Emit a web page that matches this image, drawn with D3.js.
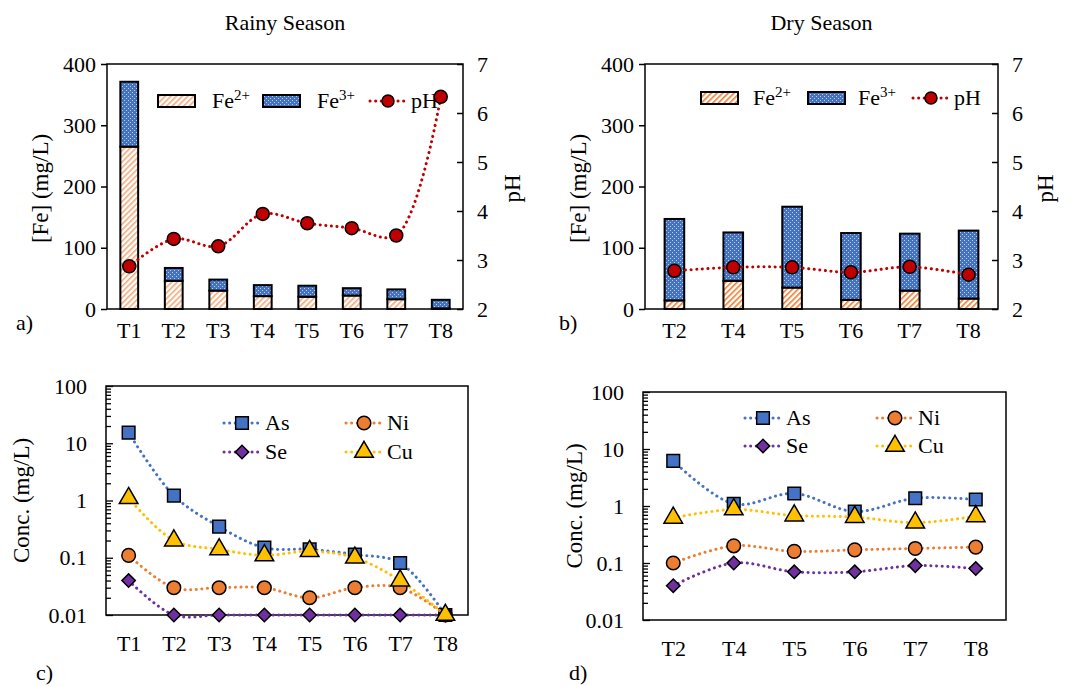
<!DOCTYPE html>
<html><head><meta charset="utf-8">
<script src="https://cdn.jsdelivr.net/npm/d3@7"></script>
<style>body{margin:0;background:#fff}</style>
</head><body>
<script>
// ---------- data ----------
const rainyCats = ["T1","T2","T3","T4","T5","T6","T7","T8"];
const rainyFe2 = [265, 46, 30, 21, 20, 22, 16, 1];
const rainyFe3 = [106, 21, 18, 18, 18, 12, 16, 14];
const rainyPH  = [2.87, 3.43, 3.28, 3.94, 3.75, 3.65, 3.50, 6.33];

const dryCats = ["T2","T4","T5","T6","T7","T8"];
const dryFe2 = [14, 46, 35, 15, 30, 17];
const dryFe3 = [133, 79, 132, 109, 93, 111];
const dryPH  = [2.78, 2.85, 2.85, 2.75, 2.86, 2.70];

const rainyAs = [15.3, 1.22, 0.35, 0.15, 0.14, 0.114, 0.081, 0.01];
const rainyNi = [0.11, 0.03, 0.03, 0.03, 0.02, 0.03, 0.03, 0.01];
const rainySe = [0.04, 0.01, 0.01, 0.01, 0.01, 0.01, 0.01, 0.01];
const rainyCu = [1.1, 0.2, 0.14, 0.11, 0.13, 0.10, 0.04, 0.01];

const dryAs = [6.2, 1.09, 1.66, 0.80, 1.37, 1.30];
const dryNi = [0.10, 0.20, 0.16, 0.17, 0.18, 0.19];
const drySe = [0.04, 0.10, 0.07, 0.07, 0.09, 0.08];
const dryCu = [0.62, 0.87, 0.68, 0.64, 0.51, 0.66];

const feTicks = [0, 100, 200, 300, 400];
const phTicks = [2, 3, 4, 5, 6, 7];
const concTicks = [0.01, 0.1, 1, 10, 100];
const concTickLabels = ["0.01", "0.1", "1", "10", "100"];

// ---------- setup ----------
const FONT = "Liberation Serif";
const svg = d3.select("body").append("svg").attr("width", 1084).attr("height", 686)
  .style("font-family", FONT);
const defs = svg.append("defs");
function hatch(id, col) {
  const p = defs.append("pattern").attr("id", id).attr("width", 4).attr("height", 4)
    .attr("patternUnits", "userSpaceOnUse").attr("patternTransform", "rotate(45)");
  p.append("rect").attr("width", 4).attr("height", 4).attr("fill", "#fff");
  p.append("rect").attr("width", 1.6).attr("height", 4).attr("fill", col);
}
hatch("hatchA", "#F4A97A");
hatch("hatchB", "#ED7D31");
(function () {
  const p = defs.append("pattern").attr("id", "dots").attr("width", 4).attr("height", 4)
    .attr("patternUnits", "userSpaceOnUse");
  p.append("rect").attr("width", 4).attr("height", 4).attr("fill", "#4472C4");
  p.append("rect").attr("x", 0).attr("y", 0).attr("width", 1).attr("height", 1).attr("fill", "#b9cbee");
  p.append("rect").attr("x", 2).attr("y", 2).attr("width", 1).attr("height", 1).attr("fill", "#b9cbee");
})();

const FS = 22;      // tick / legend text
const FT = 23;      // axis titles
const PHCOL = "#C00000";

function txt(g, x, y, s, size) {
  return g.append("text").attr("x", x).attr("y", y).attr("font-size", size || FS)
    .style("font-family", FONT).attr("fill", "#000").text(s);
}
function supText(g, x, y, base, sup) {
  const t = txt(g, x, y, base);
  t.append("tspan").attr("dy", -8).attr("font-size", 15).text(sup);
  return t;
}
function rotLabel(x, y, s) {
  svg.append("text").attr("transform", `translate(${x},${y}) rotate(-90)`)
    .attr("text-anchor", "middle").attr("font-size", FT).style("font-family", FONT).text(s);
}
function styleAxis(a, w) {
  a.style("font-family", FONT);
  a.select(".domain").remove();
  a.selectAll("line").attr("stroke", "#000").attr("stroke-width", w);
  a.selectAll("text").attr("font-size", FS).style("font-family", FONT).attr("fill", "#000");
}

// ---------- bar panels ----------
function barPanel(p, cats, fe2, fe3, ph, padInner, hatchId, leg, title, tag) {
  const g = svg.append("g");
  const x = d3.scaleBand().domain(cats).range([p.x0, p.x1]).paddingInner(padInner).paddingOuter(padInner / 2);
  const y = d3.scaleLinear().domain([0, 400]).range([p.y1, p.y0]);
  const yp = d3.scaleLinear().domain([2, 7]).range([p.y1, p.y0]);
  const rows = cats.map((c, i) => ({ cat: c, fe2: fe2[i], fe3: fe3[i], ph: ph[i] }));
  const stack = d3.stack().keys(["fe2", "fe3"])(rows);
  const fills = [`url(#${hatchId})`, "url(#dots)"];
  stack.forEach((s, k) => {
    g.selectAll(null).data(s).enter().append("rect")
      .attr("x", d => x(d.data.cat)).attr("width", x.bandwidth())
      .attr("y", d => y(d[1])).attr("height", d => y(d[0]) - y(d[1]))
      .attr("fill", fills[k]).attr("stroke", "#000").attr("stroke-width", 2);
  });
  g.append("rect").attr("x", p.x0).attr("y", p.y0).attr("width", p.x1 - p.x0).attr("height", p.y1 - p.y0)
    .attr("fill", "none").attr("stroke", "#000").attr("stroke-width", 1.5);
  const ax = g.append("g").attr("transform", `translate(${p.x0},0)`)
    .call(d3.axisLeft(y).tickValues(feTicks).tickSize(6).tickPadding(5));
  const axr = g.append("g").attr("transform", `translate(${p.x1},0)`)
    .call(d3.axisRight(yp).tickValues(phTicks).tickSize(-6).tickPadding(14).tickFormat(d3.format("d")));
  const axb = g.append("g").attr("transform", `translate(0,${p.y1})`)
    .call(d3.axisBottom(x).tickSize(0).tickPadding(13));
  [ax, axr, axb].forEach(a => styleAxis(a, 1.5));
  const ly = leg.y;
  g.append("rect").attr("x", leg.s1).attr("y", ly - 6).attr("width", 37).attr("height", 12)
    .attr("fill", `url(#${hatchId})`).attr("stroke", "#000").attr("stroke-width", 2);
  supText(g, leg.t1, ly + 7, "Fe", "2+");
  g.append("rect").attr("x", leg.s2).attr("y", ly - 6).attr("width", 37).attr("height", 12)
    .attr("fill", "url(#dots)").attr("stroke", "#000").attr("stroke-width", 2);
  supText(g, leg.t2, ly + 7, "Fe", "3+");
  g.append("line").attr("x1", leg.l).attr("x2", leg.l + 36).attr("y1", ly).attr("y2", ly)
    .attr("stroke", PHCOL).attr("stroke-width", 3).attr("stroke-dasharray", "0.1 5.5").attr("stroke-linecap", "round");
  g.append("circle").attr("cx", leg.l + 18).attr("cy", ly).attr("r", 6).attr("fill", PHCOL)
    .attr("stroke", "#000").attr("stroke-width", 1.5);
  txt(g, leg.l + 41, ly + 7, "pH");
  const line = d3.line().x(d => x(d.cat) + x.bandwidth() / 2).y(d => yp(d.ph)).curve(d3.curveCatmullRom.alpha(0.5));
  g.append("path").datum(rows).attr("d", line).attr("fill", "none").attr("stroke", PHCOL)
    .attr("stroke-width", 3).attr("stroke-dasharray", "0.1 5.5").attr("stroke-linecap", "round");
  g.selectAll(null).data(rows).enter().append("circle")
    .attr("cx", d => x(d.cat) + x.bandwidth() / 2).attr("cy", d => yp(d.ph)).attr("r", 6.5)
    .attr("fill", PHCOL).attr("stroke", "#000").attr("stroke-width", 1.5);
  txt(svg, (p.x0 + p.x1) / 2, 30, title, 22).attr("text-anchor", "middle");
  rotLabel(p.lx, (p.y0 + p.y1) / 2 + 2, "[Fe] (mg/L)");
  rotLabel(p.rx, (p.y0 + p.y1) / 2 + 2, "pH");
  txt(svg, tag.x, tag.y, tag.t);
}

barPanel({ x0: 107, x1: 463, y0: 64, y1: 309, lx: 48, rx: 520 }, rainyCats, rainyFe2, rainyFe3, rainyPH, 0.6, "hatchA",
  { y: 101, s1: 158, t1: 212, s2: 263, t2: 317, l: 370 }, "Rainy Season", { x: 16, y: 330, t: "a)" });
barPanel({ x0: 645, x1: 998, y0: 64, y1: 309, lx: 586, rx: 1053 }, dryCats, dryFe2, dryFe3, dryPH, 2 / 3, "hatchB",
  { y: 98, s1: 701, t1: 753, s2: 808, t2: 858, l: 913 }, "Dry Season", { x: 559, y: 330, t: "b)" });

// ---------- concentration panels ----------
const seriesStyle = [
  { name: "As", col: "#4472C4", sym: d3.symbolSquare, size: 160, rot: 0 },
  { name: "Ni", col: "#ED7D31", sym: d3.symbolCircle, size: 145, rot: 0 },
  { name: "Se", col: "#7030A0", sym: d3.symbolSquare, size: 90, rot: 45 },
  { name: "Cu", col: "#FFC000", sym: d3.symbolTriangle, size: 150, rot: 0 }
];

function concPanel(p, cats, series, leg, tag) {
  const g = svg.append("g");
  const x = d3.scalePoint().domain(cats).range([p.x0, p.x1]).padding(0.5);
  const y = d3.scaleLog().domain([0.01, 100]).range([p.y1, p.y0]);
  g.append("rect").attr("x", p.x0).attr("y", p.y0).attr("width", p.x1 - p.x0).attr("height", p.y1 - p.y0)
    .attr("fill", "none").attr("stroke", "#000").attr("stroke-width", 1.5);
  const minors = [];
  [0.01, 0.1, 1, 10].forEach(dec => { for (let m = 2; m <= 9; m++) minors.push(dec * m); });
  const am = g.append("g").attr("transform", `translate(${p.x0},0)`)
    .call(d3.axisRight(y).tickValues(minors).tickSize(5).tickFormat(""));
  const aM = g.append("g").attr("transform", `translate(${p.x0},0)`)
    .call(d3.axisLeft(y).tickValues(concTicks).tickSize(-7).tickPadding(19)
      .tickFormat((d, i) => concTickLabels[i]));
  const axb = g.append("g").attr("transform", `translate(0,${p.y1})`)
    .call(d3.axisBottom(x).tickSize(0).tickPadding(p.xpad));
  [am, aM, axb].forEach(a => styleAxis(a, 1.3));
  const line = d3.line().x((d, i) => x(cats[i])).y(d => y(d)).curve(d3.curveCatmullRom.alpha(0.5));
  series.forEach((vals, k) => {
    const st = seriesStyle[k];
    g.append("path").datum(vals).attr("d", line).attr("fill", "none").attr("stroke", st.col)
      .attr("stroke-width", 3).attr("stroke-dasharray", "0.1 5.5").attr("stroke-linecap", "round");
    g.selectAll(null).data(vals).enter().append("path")
      .attr("d", d3.symbol().type(st.sym).size(st.size))
      .attr("transform", (d, i) => `translate(${x(cats[i])},${y(d)}) rotate(${st.rot})`)
      .attr("fill", st.col).attr("stroke", "#000").attr("stroke-width", 1.5);
  });
  seriesStyle.forEach((st, k) => {
    const lx = k % 2 === 0 ? leg.x1 : leg.x2;
    const ly = leg.y + Math.floor(k / 2) * leg.dy;
    g.append("line").attr("x1", lx).attr("x2", lx + 35).attr("y1", ly).attr("y2", ly)
      .attr("stroke", st.col).attr("stroke-width", 3).attr("stroke-dasharray", "0.1 5.5").attr("stroke-linecap", "round");
    g.append("path").attr("d", d3.symbol().type(st.sym).size(st.size))
      .attr("transform", `translate(${lx + 18},${ly}) rotate(${st.rot})`)
      .attr("fill", st.col).attr("stroke", "#000").attr("stroke-width", 1.5);
    txt(g, lx + 41, ly + 7, st.name);
  });
  rotLabel(p.lx, (p.y0 + p.y1) / 2, "Conc. (mg/L)");
  txt(svg, tag.x, tag.y, tag.t);
}

concPanel({ x0: 106, x1: 468, y0: 386, y1: 615, lx: 29, xpad: 20 }, rainyCats, [rainyAs, rainyNi, rainySe, rainyCu],
  { x1: 224, x2: 346, y: 423, dy: 29 }, { x: 36, y: 680, t: "c)" });
concPanel({ x0: 643, x1: 1006, y0: 392, y1: 620, lx: 582, xpad: 20 }, dryCats, [dryAs, dryNi, drySe, dryCu],
  { x1: 745, x2: 877, y: 418, dy: 28 }, { x: 569, y: 680, t: "d)" });
</script>
</body></html>
